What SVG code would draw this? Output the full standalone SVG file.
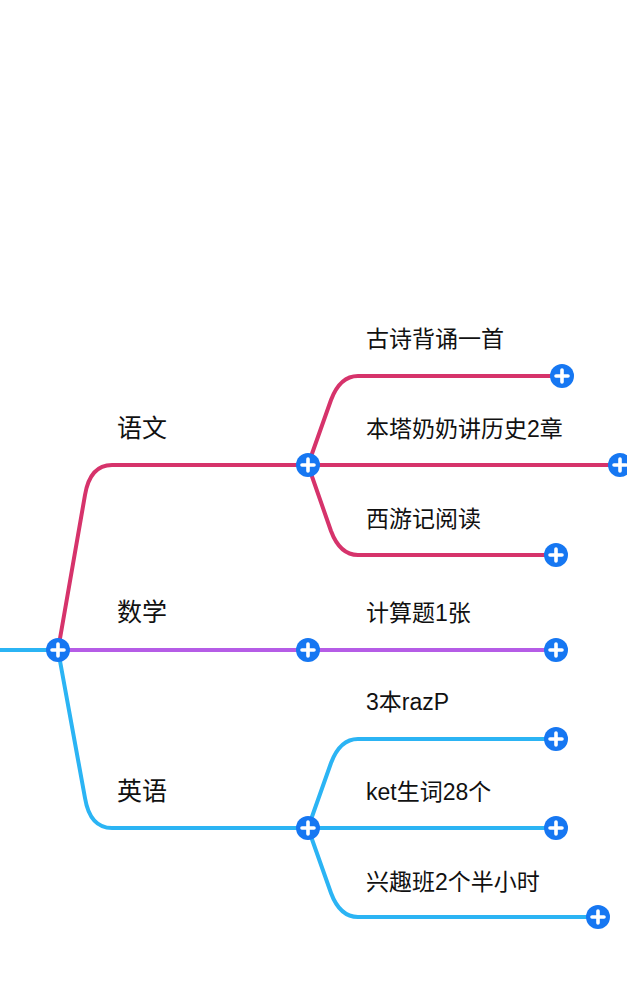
<svg xmlns="http://www.w3.org/2000/svg" width="640" height="1008" viewBox="0 0 640 1008">
<style>
.ln{fill:none;stroke-width:4;stroke-linecap:round;stroke-linejoin:round}
.r{stroke:#d6336b}
.p{stroke:#b55ce6}
.b{stroke:#2bb4f4}
.main{font-family:"Liberation Sans","Noto Sans CJK SC",sans-serif;font-size:25px;fill:#111}
.sub{font-family:"Liberation Sans","Noto Sans CJK SC",sans-serif;font-size:23px;fill:#111}
</style>
<defs>
<g id="plus">
<circle r="12" fill="#1677f2"/>
<path d="M-6,0H6M0,-6V6" stroke="#fff" stroke-width="3.6" stroke-linecap="round"/>
</g>
<clipPath id="pg"><rect x="0" y="0" width="627" height="1008"/></clipPath>
</defs>
<rect width="640" height="1008" fill="#fff"/>
<g clip-path="url(#pg)">
<g id="connectors">
<path class="ln b" d="M-4,650H58"/>
<path class="ln r" d="M58,650L85,495Q90,465 112,465H308"/>
<path class="ln p" d="M58,650H556"/>
<path class="ln b" d="M58,650L85,798Q90,828 112,828H308"/>
<path class="ln r" d="M308,465L331,400Q340,376 358,376H562"/>
<path class="ln r" d="M308,465H620"/>
<path class="ln r" d="M308,465L331,531Q340,555 358,555H556"/>
<path class="ln b" d="M308,828L331,763Q340,739 358,739H556"/>
<path class="ln b" d="M308,828H556"/>
<path class="ln b" d="M308,828L331,893Q340,917 358,917H598"/>
</g>
<g id="root"><use href="#plus" x="58" y="650"/></g>
<g id="yuwen"><text class="main" x="117" y="437">语文</text><use href="#plus" x="308" y="465"/></g>
<g id="shuxue"><text class="main" x="117" y="621">数学</text><use href="#plus" x="308" y="650"/></g>
<g id="yingyu"><text class="main" x="117" y="800">英语</text><use href="#plus" x="308" y="828"/></g>
<g id="c1"><text class="sub" x="366" y="347">古诗背诵一首</text><use href="#plus" x="562" y="376"/></g>
<g id="c2"><text class="sub" x="366" y="437">本塔奶奶讲历史2章</text><use href="#plus" x="620" y="465"/></g>
<g id="c3"><text class="sub" x="366" y="527">西游记阅读</text><use href="#plus" x="556" y="555"/></g>
<g id="c4"><text class="sub" x="366" y="621">计算题1张</text><use href="#plus" x="556" y="650"/></g>
<g id="c5"><text class="sub" x="366" y="710">3本razP</text><use href="#plus" x="556" y="739"/></g>
<g id="c6"><text class="sub" x="366" y="800">ket生词28个</text><use href="#plus" x="556" y="828"/></g>
<g id="c7"><text class="sub" x="366" y="890">兴趣班2个半小时</text><use href="#plus" x="598" y="917"/></g>
</g>
</svg>
